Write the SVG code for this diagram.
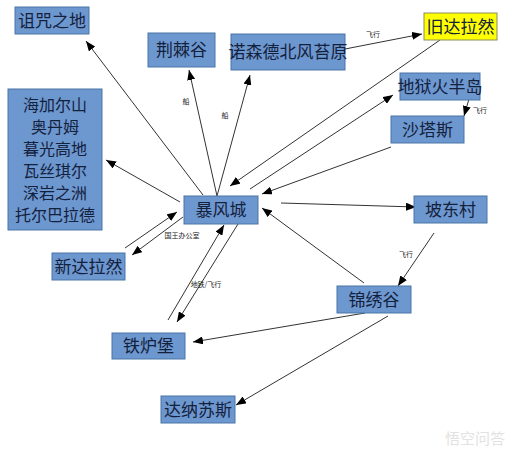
<svg xmlns="http://www.w3.org/2000/svg" width="526" height="456" viewBox="0 0 526 456">
<defs>
<marker id="ah" viewBox="0 0 10 8" refX="10" refY="4" markerWidth="10" markerHeight="8" markerUnits="userSpaceOnUse" orient="auto">
<path d="M0,0 L10,4 L0,8 Z" fill="#000"/>
</marker>
<style>
.box{fill:#6d97cf;stroke:#4a74a6;stroke-width:1}
.yel{fill:#ffff00;stroke:#8a8a60;stroke-width:1}
.t{font-family:"Noto Sans CJK SC","Noto Sans",sans-serif;font-size:17px;fill:#14213d;text-anchor:middle}
.tb{font-size:16px}
.l{font-family:"Noto Sans CJK SC",sans-serif;font-size:7px;fill:#222;text-anchor:middle}
.c line{stroke:#333;stroke-width:1;marker-end:url(#ah)}
</style>
</defs>
<rect width="526" height="456" fill="#fff"/>
<g class="c" id="connectors">
<line x1="203" y1="195" x2="86" y2="41"/>
<line x1="217" y1="196" x2="189" y2="70"/>
<line x1="217" y1="196" x2="250" y2="75"/>
<line x1="345" y1="49" x2="422" y2="34"/>
<line x1="440" y1="40" x2="230" y2="186"/>
<line x1="250" y1="189" x2="393" y2="95"/>
<line x1="469" y1="99" x2="464" y2="116"/>
<line x1="391" y1="147" x2="262" y2="194"/>
<line x1="180" y1="202" x2="106" y2="160"/>
<line x1="125" y1="248" x2="177" y2="212"/>
<line x1="183" y1="217" x2="132" y2="255"/>
<line x1="168" y1="320" x2="224" y2="225"/>
<line x1="238" y1="224" x2="177" y2="322"/>
<line x1="281" y1="203" x2="416" y2="207"/>
<line x1="434" y1="233" x2="398" y2="286"/>
<line x1="364" y1="283" x2="262" y2="208"/>
<line x1="365" y1="313" x2="193" y2="342"/>
<line x1="388" y1="316" x2="236" y2="405"/>
<text class="l" x="186" y="104">船</text>
<text class="l" x="225" y="118">船</text>
<text class="l" x="373" y="37">飞行</text>
<text class="l" x="480" y="113">飞行</text>
<text class="l" x="182" y="238">国王办公室</text>
<text class="l" x="206" y="287">地铁/飞行</text>
<text class="l" x="406" y="257">飞行</text>
</g>
<g id="n1"><rect class="box" x="15" y="7" width="74" height="27"/><text class="t" x="52" y="27">诅咒之地</text></g>
<g id="n2"><rect class="box" x="148" y="33" width="67" height="34"/><text class="t" x="181.5" y="56">荆棘谷</text></g>
<g id="n3"><rect class="box" x="231" y="34" width="114" height="36"/><text class="t" x="288" y="58">诺森德北风苔原</text></g>
<g id="n4"><rect class="yel" x="424" y="13" width="73" height="27"/><text class="t" x="460.5" y="33">旧达拉然</text></g>
<g id="n5"><rect class="box" x="400" y="73" width="80" height="27"/><text class="t" x="440" y="93">地狱火半岛</text></g>
<g id="n6"><rect class="box" x="391" y="116" width="73" height="27"/><text class="t" x="427.5" y="136">沙塔斯</text></g>
<g id="n7"><rect class="box" x="8" y="89" width="94" height="141"/>
<text class="t tb" x="55" y="111">海加尔山</text>
<text class="t tb" x="55" y="133">奥丹姆</text>
<text class="t tb" x="55" y="155">暮光高地</text>
<text class="t tb" x="55" y="177">瓦丝琪尔</text>
<text class="t tb" x="55" y="199">深岩之洲</text>
<text class="t tb" x="55" y="221">托尔巴拉德</text></g>
<g id="n8"><rect class="box" x="184" y="196" width="74" height="28"/><text class="t" x="221" y="216">暴风城</text></g>
<g id="n9"><rect class="box" x="414" y="196" width="73" height="27"/><text class="t" x="450.5" y="216">坡东村</text></g>
<g id="n10"><rect class="box" x="52" y="253" width="73" height="27"/><text class="t" x="88.5" y="273">新达拉然</text></g>
<g id="n11"><rect class="box" x="337" y="286" width="74" height="27"/><text class="t" x="374" y="306">锦绣谷</text></g>
<g id="n12"><rect class="box" x="112" y="333" width="73" height="26"/><text class="t" x="148.5" y="352">铁炉堡</text></g>
<g id="n13"><rect class="box" x="161" y="396" width="74" height="27"/><text class="t" x="198" y="416">达纳苏斯</text></g>
<g id="watermark"><text x="445" y="444" font-family="Noto Sans CJK SC,sans-serif" font-size="15" fill="#e2e2e2">悟空问答</text></g>
</svg>
